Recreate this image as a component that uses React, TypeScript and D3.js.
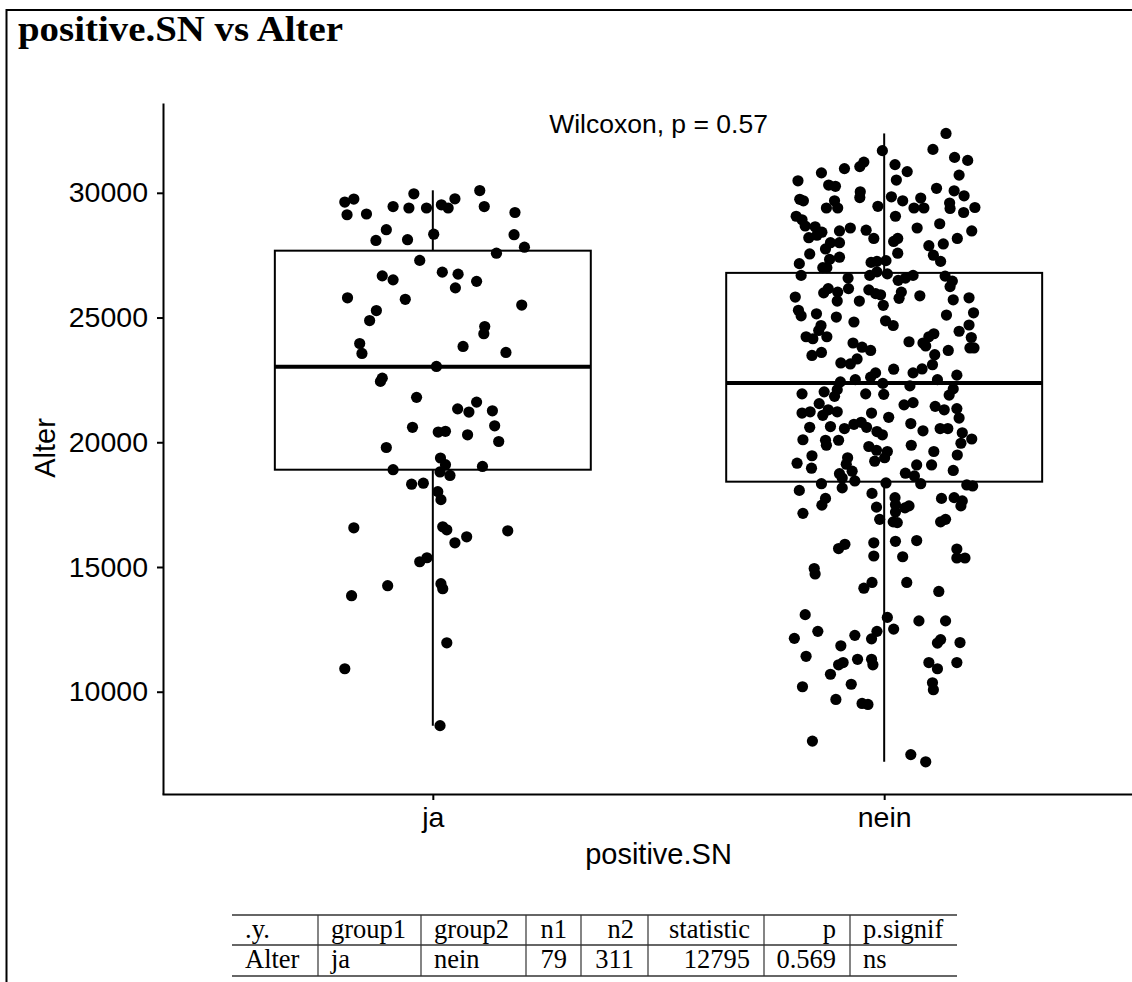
import React, { useEffect, useRef } from 'react';
import * as d3 from 'd3';

const groups = ['ja', 'nein'];
const yTicks = [10000, 15000, 20000, 25000, 30000];

// box stats: [lower whisker, q1, median, q3, upper whisker]
const jaBox = [8640, 18900, 23030, 27680, 30100];
const neinBox = [7190, 18420, 22380, 26790, 32380];

// jittered points: [horizontal jitter in group steps, Alter]
const jaPoints = [
  [-0.195, 29630], [-0.175, 29750], [-0.190, 29120], [-0.147, 29150], [-0.088, 29450], [-0.053, 29390],
  [-0.042, 29960], [-0.014, 29390], [0.019, 29520], [0.034, 29390], [0.049, 29760], [0.104, 30090],
  [0.114, 29450], [0.182, 29210], [-0.103, 28520], [-0.126, 28090], [-0.056, 28120], [0.002, 28340],
  [0.180, 28320], [0.203, 27820], [0.141, 27580], [-0.029, 27290], [0.021, 26820], [0.056, 26740],
  [-0.112, 26670], [-0.088, 26510], [0.097, 26450], [0.050, 26190], [-0.189, 25790], [-0.061, 25730],
  [0.197, 25500], [-0.125, 25280], [-0.140, 24880], [0.115, 24640], [0.113, 24350], [-0.162, 23960],
  [-0.157, 23560], [0.067, 23840], [0.162, 23600], [0.008, 23040], [-0.112, 22570], [-0.116, 22440],
  [-0.036, 21800], [0.097, 21610], [0.055, 21340], [0.080, 21210], [0.132, 21260], [0.137, 20660],
  [-0.045, 20600], [0.012, 20410], [0.028, 20440], [0.077, 20300], [0.146, 20030], [-0.103, 19790],
  [0.017, 19370], [0.028, 19100], [0.110, 19030], [-0.088, 18900], [0.016, 18810], [0.038, 18670],
  [-0.047, 18320], [-0.021, 18360], [0.011, 18020], [0.018, 17700], [0.022, 16610], [-0.175, 16570],
  [0.031, 16490], [0.049, 15970], [0.075, 16210], [0.166, 16450], [-0.013, 15370], [-0.029, 15210],
  [-0.100, 14250], [0.018, 14330], [0.022, 14130], [-0.180, 13850], [0.031, 11960], [-0.195, 10920],
  [0.016, 8640],
];

const neinPoints = [
  // above the box
  [0.137, 32380], [-0.004, 31690], [0.108, 31740], [0.156, 31420], [0.185, 31300], [0.024, 31130],
  [0.051, 30850], [-0.045, 31230], [-0.054, 31050], [-0.088, 30970], [-0.139, 30800], [-0.191, 30480],
  [0.166, 30710], [0.027, 30510], [-0.123, 30310], [-0.108, 30260], [0.116, 30180], [0.155, 30080],
  [0.177, 29880], [-0.053, 30040], [-0.054, 29810], [0.016, 29840], [0.081, 29790], [0.041, 29680],
  [-0.187, 29740], [-0.179, 29680], [-0.110, 29680], [0.145, 29590], [0.201, 29410], [-0.128, 29390],
  [-0.103, 29390], [-0.014, 29460], [0.066, 29390], [0.088, 29390], [0.146, 29370], [0.176, 29210],
  [-0.195, 29060], [-0.182, 28920], [0.025, 29060], [-0.175, 28670], [-0.153, 28640], [-0.138, 28420],
  [-0.099, 28470], [-0.075, 28590], [-0.040, 28500], [0.073, 28590], [0.123, 28760], [0.194, 28470],
  [-0.167, 28200], [-0.149, 28300], [-0.023, 28170], [0.030, 28170], [0.021, 28050], [0.099, 27880],
  [0.162, 28170], [0.131, 27950], [-0.119, 28000], [-0.099, 28000], [-0.130, 27750], [-0.165, 27550],
  [0.030, 27580], [0.109, 27500], [0.125, 27250], [-0.121, 27330], [-0.099, 27420], [-0.188, 27160],
  [-0.029, 27210], [-0.016, 27250], [0.004, 27280], [-0.184, 26690], [-0.136, 27000], [-0.127, 27000],
  [-0.032, 26690], [-0.016, 26830], [0.007, 26750],
  // inside the box
  [-0.080, 26580], [0.031, 26490], [0.047, 26580], [0.064, 26690], [0.135, 26660], [0.151, 26460],
  [0.146, 26240], [-0.134, 25990], [-0.124, 26160], [-0.103, 26020], [-0.079, 26160], [-0.034, 26110],
  [-0.019, 25960], [-0.008, 25910], [-0.055, 25660], [-0.104, 25660], [0.033, 25770], [0.038, 26020],
  [0.079, 25870], [0.153, 25710], [0.188, 25790], [-0.197, 25820], [-0.190, 25290], [-0.184, 25070],
  [-0.150, 25150], [-0.106, 25020], [-0.002, 25490], [0.138, 25100], [0.198, 25190], [-0.067, 24820],
  [0.003, 24870], [0.020, 24680], [-0.140, 24680], [-0.145, 24480], [-0.127, 24230], [-0.173, 24230],
  [-0.158, 24150], [0.188, 24700], [0.166, 24450], [0.193, 24200], [0.199, 23780], [0.190, 23780],
  [0.055, 24030], [0.086, 23980], [0.099, 24230], [0.110, 24350], [0.092, 23860], [-0.160, 23480],
  [-0.139, 23600], [-0.069, 23980], [-0.049, 23810], [-0.030, 23680], [0.142, 23680], [0.112, 23510],
  [-0.096, 23180], [-0.075, 23140], [-0.060, 23340], [0.021, 22930], [0.064, 22780], [0.084, 22940],
  [0.107, 23110], [-0.019, 22780], [-0.030, 22610], [0.161, 22690], [-0.097, 22420], [-0.064, 22510],
  [-0.003, 22360], [0.118, 22510], [-0.182, 21940], [-0.133, 22020], [-0.104, 22110], [-0.110, 21840],
  [-0.041, 21940], [-0.001, 21920], [0.057, 22260], [0.144, 21890], [0.153, 22140], [-0.144, 21550],
  [-0.124, 21300], [-0.136, 21080], [-0.104, 21220], [-0.182, 21170], [-0.164, 21220], [0.044, 21500],
  [0.064, 21590], [0.113, 21440], [0.133, 21300], [0.161, 21350], [0.166, 20970], [-0.028, 21170],
  [0.010, 21000], [-0.165, 20600], [-0.119, 20630], [-0.088, 20550], [-0.067, 20720], [-0.051, 20800],
  [-0.039, 20600], [-0.016, 20430], [-0.004, 20300], [0.059, 20750], [0.086, 20460], [0.124, 20550],
  [0.141, 20550], [0.173, 20380], [0.194, 20130], [0.170, 19960], [-0.180, 20100], [-0.130, 20080],
  [-0.101, 20080], [-0.128, 19880], [-0.034, 19830], [-0.017, 19680], [0.007, 19630], [0.060, 19880],
  [0.110, 19630], [-0.160, 19460], [0.162, 19490], [-0.193, 19160], [-0.161, 18960], [-0.081, 19380],
  [-0.084, 19120], [-0.099, 18740], [-0.071, 18840], [-0.093, 18570], [-0.021, 19240], [0.001, 19380],
  [0.047, 18760], [0.072, 19090], [0.067, 18650], [0.105, 19090], [0.153, 18870], [-0.139, 18340],
  [-0.065, 18450], [0.004, 18370], [0.081, 18340],
  // below the box
  [0.183, 18290], [0.196, 18250], [-0.188, 18070], [-0.093, 18170], [-0.027, 17950], [-0.130, 17750],
  [-0.138, 17480], [0.024, 17780], [0.025, 17500], [-0.017, 17400], [0.046, 17370], [0.055, 17450],
  [0.025, 17200], [0.020, 16810], [0.127, 17750], [0.155, 17780], [0.173, 17650], [0.170, 17450],
  [-0.180, 17150], [-0.010, 16910], [0.029, 16780], [0.125, 16810], [0.136, 16910], [-0.023, 15970],
  [0.025, 16030], [0.072, 16060], [-0.101, 15740], [-0.087, 15910], [-0.023, 15440], [0.041, 15410],
  [0.161, 15720], [0.161, 15360], [0.179, 15360], [-0.155, 14940], [-0.153, 14720], [-0.045, 14150],
  [-0.027, 14380], [0.050, 14380], [0.121, 14020], [-0.175, 13090], [0.007, 12980], [0.077, 12840],
  [0.136, 12840], [-0.147, 12420], [-0.199, 12140], [-0.065, 12260], [-0.028, 12120], [-0.016, 12420],
  [0.021, 12510], [0.125, 12090], [0.118, 11950], [0.168, 11970], [-0.096, 11840], [-0.173, 11420],
  [-0.059, 11300], [-0.028, 11300], [-0.025, 11080], [-0.101, 11080], [-0.091, 11170], [0.099, 11170],
  [0.118, 10920], [0.161, 11170], [-0.119, 10700], [-0.073, 10300], [-0.181, 10200], [0.107, 10360],
  [0.109, 10080], [-0.107, 9690], [-0.049, 9530], [-0.036, 9490], [-0.159, 8020], [0.059, 7480],
  [0.092, 7190],
];

const testLabel = 'Wilcoxon, p = 0.57';
const testLabelAt = [1.5, 32400];

const tableHead = ['.y.', 'group1', 'group2', 'n1', 'n2', 'statistic', 'p', 'p.signif'];
const tableRow = ['Alter', 'ja', 'nein', '79', '311', '12795', '0.569', 'ns'];
const tableRight = [false, false, false, true, true, true, true, false];

const SANS = '"Liberation Sans", Arial, Helvetica, sans-serif';
const SERIF = '"Liberation Serif", "Times New Roman", serif';

export default function App() {
  const ref = useRef<SVGSVGElement>(null);

  useEffect(() => {
    const svg = d3.select(ref.current);
    svg.selectAll('*').remove();

    // outer frame (only top and left edges are inside the picture)
    svg.append('path')
      .attr('d', 'M6.5,982V10H1132')
      .attr('fill', 'none')
      .attr('stroke', '#000')
      .attr('stroke-width', 2);

    svg.append('text')
      .attr('x', 18)
      .attr('y', 41)
      .attr('font-family', SERIF)
      .attr('font-weight', 'bold')
      .attr('font-size', 35)
      .attr('textLength', 325)
      .attr('lengthAdjust', 'spacingAndGlyphs')
      .text('positive.SN vs Alter');

    const x = d3.scalePoint().domain(groups).range([162, 1155]).padding(0.6);
    const step = x.step();
    const y = d3.scaleLinear().domain([5900, 33600]).range([794, 103]);

    // axes
    const gy = svg.append('g').attr('transform', 'translate(163,0)')
      .call(d3.axisLeft(y).tickValues(yTicks).tickSize(6).tickSizeOuter(0).tickPadding(9).tickFormat(d3.format('d')));
    const gx = svg.append('g').attr('transform', 'translate(0,794)')
      .call(d3.axisBottom(x).tickSize(6).tickSizeOuter(0));
    [gx, gy].forEach(g => {
      g.select('.domain').attr('stroke-width', 2);
      g.selectAll('.tick line').attr('stroke-width', 2);
      g.selectAll('.tick text').attr('font-family', SANS).attr('font-size', 28.5).attr('fill', '#000');
    });
    gx.selectAll('.tick text').attr('y', 33).attr('dy', 0);

    svg.append('text')
      .attr('x', (162 + 1155) / 2)
      .attr('y', 864)
      .attr('text-anchor', 'middle')
      .attr('font-family', SANS)
      .attr('font-size', 29)
      .text('positive.SN');

    svg.append('text')
      .attr('transform', 'translate(55,448) rotate(-90)')
      .attr('text-anchor', 'middle')
      .attr('font-family', SANS)
      .attr('font-size', 29)
      .text('Alter');

    // boxes
    const boxes = [jaBox, neinBox];
    const bw = step * 0.7;
    groups.forEach((gname, i) => {
      const [lo, q1, med, q3, hi] = boxes[i];
      const cx = x(gname)!;
      const g = svg.append('g');
      g.append('line').attr('x1', cx).attr('x2', cx).attr('y1', y(hi)).attr('y2', y(q3))
        .attr('stroke', '#000').attr('stroke-width', 2);
      g.append('line').attr('x1', cx).attr('x2', cx).attr('y1', y(q1)).attr('y2', y(lo))
        .attr('stroke', '#000').attr('stroke-width', 2);
      g.append('rect')
        .attr('x', cx - bw / 2).attr('width', bw)
        .attr('y', y(q3)).attr('height', y(q1) - y(q3))
        .attr('fill', '#fff').attr('stroke', '#000').attr('stroke-width', 2);
      g.append('line').attr('x1', cx - bw / 2).attr('x2', cx + bw / 2).attr('y1', y(med)).attr('y2', y(med))
        .attr('stroke', '#000').attr('stroke-width', 4);
    });

    // jittered points
    [jaPoints, neinPoints].forEach((pts, i) => {
      const cx = x(groups[i])!;
      svg.append('g').selectAll('circle')
        .data(pts)
        .enter()
        .append('circle')
        .attr('cx', d => cx + d[0] * step)
        .attr('cy', d => y(d[1]))
        .attr('r', 5.6)
        .attr('fill', '#000');
    });

    svg.append('text')
      .attr('x', x('ja')! + (testLabelAt[0] - 1) * step)
      .attr('y', y(testLabelAt[1]))
      .attr('text-anchor', 'middle')
      .attr('font-family', SANS)
      .attr('font-size', 26.5)
      .text(testLabel);

    // result table
    const cols = [232, 318, 421, 526, 581, 648, 764, 850, 957];
    const rules = [915, 945, 976];
    const tg = svg.append('g').attr('font-family', SERIF).attr('font-size', 26.5);
    rules.forEach(ry => {
      tg.append('line').attr('x1', cols[0]).attr('x2', cols[cols.length - 1]).attr('y1', ry).attr('y2', ry)
        .attr('stroke', '#333').attr('stroke-width', 1.5);
    });
    cols.slice(1, -1).forEach(cx => {
      tg.append('line').attr('x1', cx).attr('x2', cx).attr('y1', rules[0]).attr('y2', rules[2])
        .attr('stroke', '#333').attr('stroke-width', 1.2);
    });
    [tableHead, tableRow].forEach((row, r) => {
      row.forEach((cell, c) => {
        tg.append('text')
          .attr('x', tableRight[c] ? cols[c + 1] - 14 : cols[c] + 13)
          .attr('y', r === 0 ? 938 : 968)
          .attr('text-anchor', tableRight[c] ? 'end' : 'start')
          .text(cell);
      });
    });
  }, []);

  return (
    <svg ref={ref} width={1132} height={982}
      style={{ position: 'absolute', left: 0, top: 0, background: '#fff' }} />
  );
}
